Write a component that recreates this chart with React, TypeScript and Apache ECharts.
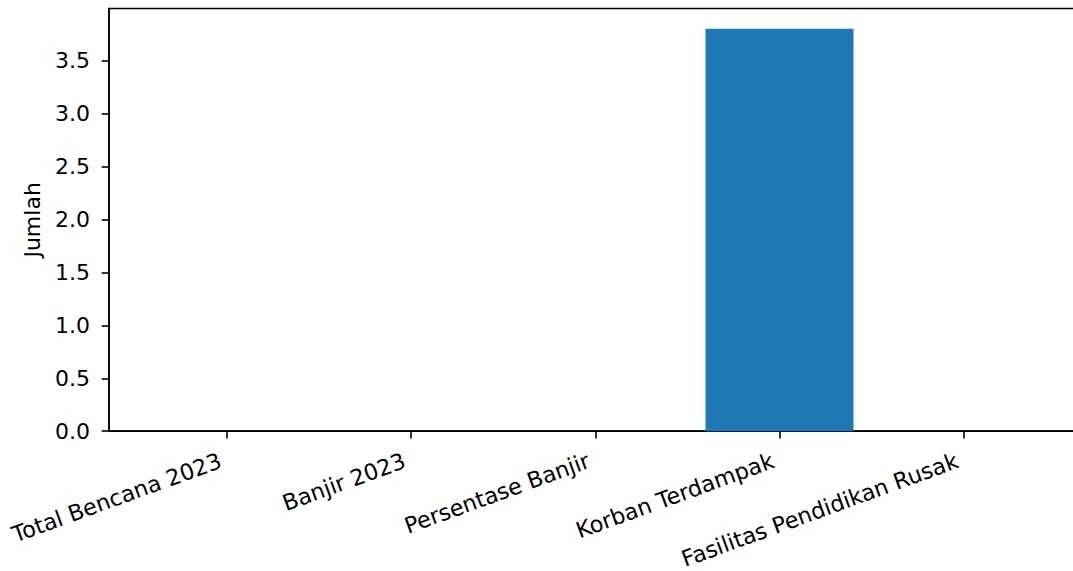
import React, { useEffect, useRef } from "react";
import * as echarts from "echarts";

const categories = [
  "Total Bencana 2023",
  "Banjir 2023",
  "Persentase Banjir",
  "Korban Terdampak",
  "Fasilitas Pendidikan Rusak",
];
const values = [0, 0, 0, 3.8, 0];
const yTicks = [0, 0.5, 1.0, 1.5, 2.0, 2.5, 3.0, 3.5];
const xTicks = [0, 1, 2, 3, 4];

const FONT = "DejaVu Sans";
const FS = 22;

export default function App() {
  const ref = useRef<HTMLDivElement>(null);
  useEffect(() => {
    if (!ref.current) return;
    const chart = echarts.init(ref.current, undefined, { renderer: "svg" });
    chart.setOption({
      animation: false,
      backgroundColor: "#ffffff",
      grid: {
        left: 109,
        top: 8.5,
        bottom: 137,
        right: 8.4,
        show: true,
        borderColor: "#000000",
        borderWidth: 1.6,
        backgroundColor: "transparent",
      },
      xAxis: {
        type: "value",
        min: -0.64,
        max: 4.64,
        splitLine: { show: false },
        axisLine: { show: true, onZero: false, lineStyle: { color: "#000", width: 1.6 } },
        axisTick: {
          show: true,
          customValues: xTicks,
          length: 7.3,
          lineStyle: { color: "#000", width: 1.6 },
        },
        axisLabel: {
          show: true,
          customValues: xTicks,
          rotate: 20,
          margin: 26,
          padding: [0, 7, 0, 0],
          color: "#000",
          fontFamily: FONT,
          fontSize: 22.4,
          formatter: (v: number) => categories[Math.round(v)] ?? "",
        },
      },
      yAxis: {
        type: "value",
        min: 0,
        max: 3.99,
        splitLine: { show: false },
        axisLine: { show: true, onZero: false, lineStyle: { color: "#000", width: 1.6 } },
        axisTick: {
          show: true,
          customValues: yTicks,
          length: 7.3,
          lineStyle: { color: "#000", width: 1.6 },
        },
        axisLabel: {
          show: true,
          customValues: yTicks,
          margin: 19,
          color: "#000",
          fontFamily: FONT,
          fontSize: FS,
          formatter: (v: number) => v.toFixed(1),
        },
        name: "Jumlah",
        nameLocation: "middle",
        nameRotate: 90,
        nameGap: 66,
        nameTextStyle: { color: "#000", fontFamily: FONT, fontSize: FS },
      },
      series: [
        {
          type: "bar",
          data: values.map((v, i) => [i, v]),
          barWidth: 148,
          itemStyle: { color: "#1f77b4" },
          silent: true,
        },
      ],
    });
    return () => chart.dispose();
  }, []);
  return (
    <div
      style={{
        position: "absolute",
        left: 0,
        top: 0,
        width: 1073,
        height: 571,
        overflow: "hidden",
        background: "#fff",
      }}
    >
      <div ref={ref} style={{ width: 1090, height: 571 }} />
    </div>
  );
}
